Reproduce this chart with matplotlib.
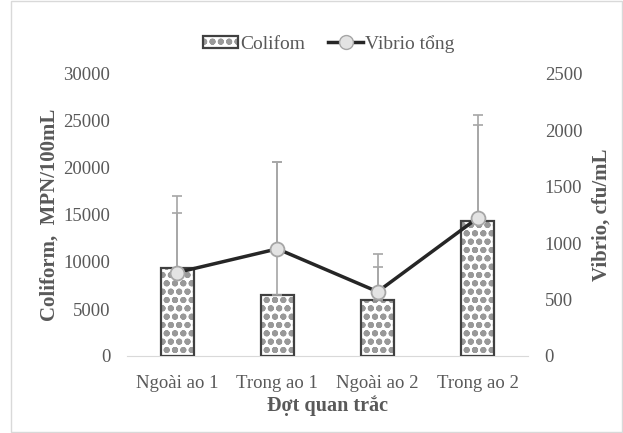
import numpy as np
import matplotlib
matplotlib.use("Agg")
import matplotlib.pyplot as plt
from matplotlib.patches import Patch, Rectangle
from matplotlib.lines import Line2D

plt.rcParams['font.family'] = ['Liberation Serif', 'DejaVu Serif']
plt.rcParams['hatch.linewidth'] = 2.0

# data
categories = ['Ngoài ao 1', 'Trong ao 1', 'Ngoài ao 2', 'Trong ao 2']
coliform = [9400, 6500, 6000, 14400]
coliform_err = [7600, 14100, 4850, 11200]
vibrio = [740, 950, 570, 1225]
vibrio_err = [530, 770, 220, 825]

txt = '#595959'
x = np.arange(len(categories))

fig = plt.figure(figsize=(6.23, 4.33), dpi=100)
ax = fig.add_axes([127/623, 1-356/433, 401/623, 282/433])
ax2 = ax.twinx()

# bars: hatch layer then outline layer
ax.bar(x, coliform, width=0.33, color='white', edgecolor='#999999', hatch='oo', linewidth=0, zorder=2)
ax.bar(x, coliform, width=0.33, fill=False, edgecolor='#404040', linewidth=1.6, zorder=3)
ax.errorbar(x, coliform, yerr=[np.zeros(4), coliform_err], fmt='none', ecolor='#a6a6a6',
            elinewidth=1.2, capsize=3.5, capthick=1.2, zorder=4)

ax2.errorbar(x, vibrio, yerr=[np.zeros(4), vibrio_err], fmt='none', ecolor='#a6a6a6',
             elinewidth=1.2, capsize=3.5, capthick=1.2, zorder=1)
ax2.plot(x, vibrio, color='#262626', lw=2.5, marker='o', ms=10, mfc='#e3e3e3',
         mec='#a6a6a6', mew=1.3, zorder=5)

ax.set_xlim(-0.5, 3.5)
ax.set_ylim(0, 30000)
ax2.set_ylim(0, 2500)
ax.set_yticks(np.arange(0, 30001, 5000))
ax2.set_yticks(np.arange(0, 2501, 500))
ax.set_xticks(x)
ax.set_xticklabels(categories)

for a in (ax, ax2):
    for s in a.spines.values():
        s.set_visible(False)
    a.tick_params(length=0, labelsize=13.5, labelcolor=txt)
ax.spines['bottom'].set_visible(True)
ax.spines['bottom'].set_color('#d9d9d9')
ax.tick_params(axis='y', pad=12)
ax2.tick_params(axis='y', pad=12)
ax.tick_params(axis='x', pad=14)

ax.set_ylabel('Coliform,  MPN/100mL', fontsize=15, fontweight='bold', color=txt, labelpad=3)
ax2.set_ylabel('Vibrio, cfu/mL', fontsize=15, fontweight='bold', color=txt, labelpad=7)
ax.set_xlabel('Đợt quan trắc', fontsize=14.5, fontweight='bold', color=txt, labelpad=2)

h1 = (Patch(facecolor='white', edgecolor='#999999', hatch='oo', linewidth=0),
      Patch(fill=False, edgecolor='#404040', linewidth=1.6))
h2 = Line2D([], [], color='#262626', lw=2.5, marker='o', ms=10, mfc='#e3e3e3', mec='#a6a6a6')
fig.legend([h1, h2], ['Colifom', 'Vibrio tổng'], loc='center', bbox_to_anchor=(0.528, 1-44/433),
           ncol=2, frameon=False, fontsize=14, labelcolor=txt, handlelength=1.8,
           handletextpad=0.1, columnspacing=1.2, handleheight=0.6)

fig.patches.append(Rectangle((11/623, 0.002), 1-12/623, 0.996, transform=fig.transFigure,
                             fill=False, edgecolor='#d9d9d9', lw=1))

fig.savefig('out.png', dpi=100)
